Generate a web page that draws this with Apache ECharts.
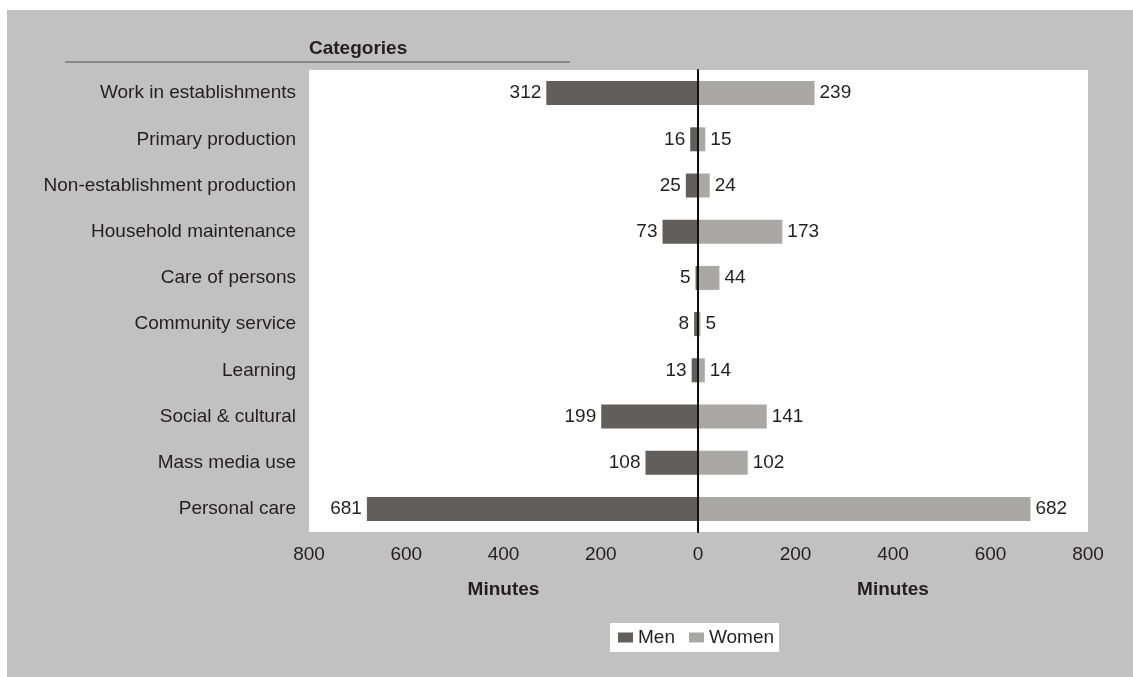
<!DOCTYPE html>
<html>
<head>
<meta charset="utf-8">
<title>Time use by men and women</title>
<script src="https://cdn.jsdelivr.net/npm/echarts@6/dist/echarts.min.js"></script>
<style>
  html, body { margin: 0; padding: 0; background: #ffffff; }
  #wrap { position: relative; width: 1133px; height: 677px; overflow: hidden; }
  #panel { position: absolute; left: 7px; top: 10px; right: 0; bottom: 0; background: #c1c1c1; }
  #chart { position: absolute; left: 0; top: 0; width: 1133px; height: 677px; }
</style>
</head>
<body>
<div id="wrap">
  <div id="panel"></div>
  <div id="chart"></div>
</div>
<script>
// Activity categories, top to bottom
const categories = [
  'Work in establishments',
  'Primary production',
  'Non-establishment production',
  'Household maintenance',
  'Care of persons',
  'Community service',
  'Learning',
  'Social & cultural',
  'Mass media use',
  'Personal care'
];
// Average minutes per day
const menMinutes = [312, 16, 25, 73, 5, 8, 13, 199, 108, 681];
const womenMinutes = [239, 15, 24, 173, 44, 5, 14, 141, 102, 682];
const axisMax = 800;
const axisStep = 200;

const TEXT = '#231f20';
const FONT = 'Liberation Sans, Arial, sans-serif';
const MEN_COLOR = '#625e5b';
const WOMEN_COLOR = '#aaa8a5';

const chart = echarts.init(document.getElementById('chart'), null, { renderer: 'canvas' });

const valueAxisBase = {
  type: 'value',
  min: 0,
  max: axisMax,
  interval: axisStep,
  splitLine: { show: false },
  axisLine: { show: false },
  axisTick: { show: false },
  axisLabel: { color: TEXT, fontSize: 19, fontFamily: FONT, margin: 13 },
  name: 'Minutes',
  nameLocation: 'middle',
  nameGap: 48,
  nameTextStyle: { color: TEXT, fontSize: 19, fontWeight: 'bold', fontFamily: FONT }
};

chart.setOption({
  animation: false,
  textStyle: { fontFamily: FONT },
  grid: [
    { left: 309, top: 70, width: 389, height: 462, show: true, backgroundColor: '#ffffff', borderWidth: 0 },
    { left: 698, top: 70, width: 390, height: 462, show: true, backgroundColor: '#ffffff', borderWidth: 0 }
  ],
  xAxis: [
    Object.assign({}, valueAxisBase, { gridIndex: 0, inverse: true }),
    Object.assign({}, valueAxisBase, {
      gridIndex: 1,
      axisLabel: Object.assign({}, valueAxisBase.axisLabel, { showMinLabel: false })
    })
  ],
  yAxis: [
    {
      type: 'category',
      gridIndex: 0,
      data: categories,
      inverse: true,
      axisLine: { show: false },
      axisTick: { show: false },
      axisLabel: { color: TEXT, fontSize: 19, fontFamily: FONT, margin: 13 }
    },
    {
      type: 'category',
      gridIndex: 1,
      data: categories,
      inverse: true,
      axisLine: { show: true, lineStyle: { color: '#111111', width: 2 } },
      axisTick: { show: false },
      axisLabel: { show: false },
      z: 10
    }
  ],
  legend: {
    data: ['Men', 'Women'],
    left: 610,
    top: 623,
    orient: 'horizontal',
    backgroundColor: '#ffffff',
    padding: [5, 5, 5, 8],
    itemWidth: 15,
    itemHeight: 10,
    itemGap: 14,
    icon: 'rect',
    textStyle: { color: TEXT, fontSize: 19, fontFamily: FONT }
  },
  graphic: [
    {
      type: 'line',
      shape: { x1: 65, y1: 62, x2: 570, y2: 62 },
      style: { stroke: '#8a8a8a', lineWidth: 2 }
    },
    {
      type: 'text',
      left: 309,
      top: 39,
      style: { text: 'Categories', fill: TEXT, font: 'bold 19px ' + FONT }
    }
  ],
  series: [
    {
      name: 'Men',
      type: 'bar',
      xAxisIndex: 0,
      yAxisIndex: 0,
      data: menMinutes,
      barWidth: 24,
      itemStyle: { color: MEN_COLOR },
      label: { show: true, position: 'left', distance: 5, color: TEXT, fontSize: 19, fontFamily: FONT }
    },
    {
      name: 'Women',
      type: 'bar',
      xAxisIndex: 1,
      yAxisIndex: 1,
      data: womenMinutes,
      barWidth: 24,
      itemStyle: { color: WOMEN_COLOR },
      label: { show: true, position: 'right', distance: 5, color: TEXT, fontSize: 19, fontFamily: FONT }
    }
  ]
});
</script>
</body>
</html>
